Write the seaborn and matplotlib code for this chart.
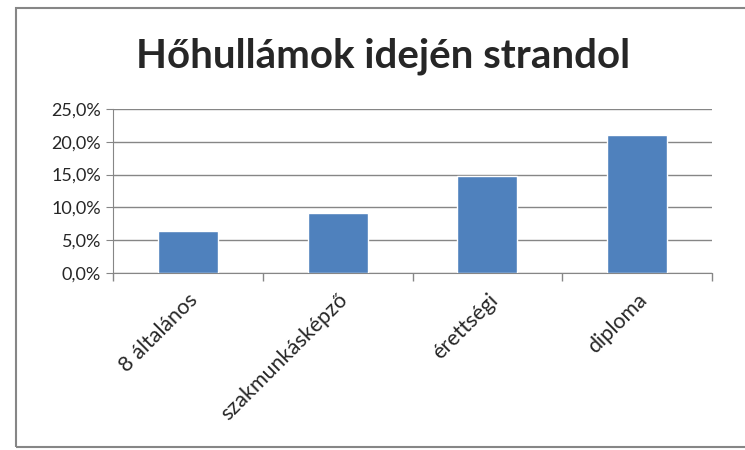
import matplotlib
matplotlib.use("Agg")
import matplotlib.pyplot as plt
import matplotlib.ticker as mticker
import seaborn as sns
import pandas as pd

## data
categories = ["8 általános", "szakmunkásképző", "érettségi", "diploma"]
values = [0.064, 0.092, 0.148, 0.211]
title = "Hőhullámok idején strandol"

df = pd.DataFrame({"kat": categories, "arany": values})

sns.set_style("white")
plt.rcParams["font.family"] = ["Lato", "DejaVu Sans"]

fig = plt.figure(figsize=(7.45, 4.5), dpi=100)
ax = fig.add_axes([0.1517, 0.3933, 0.8040, 0.3645])

sns.barplot(data=df, x="kat", y="arany", color="#4F81BD", width=0.4,
            saturation=1, ax=ax, zorder=3)

ax.set_ylim(0, 0.25)
ax.set_yticks([0, 0.05, 0.10, 0.15, 0.20, 0.25])
ax.yaxis.set_major_formatter(mticker.FuncFormatter(
    lambda v, p: f"{v*100:.1f}%".replace(".", ",")))
ax.grid(axis="y", color="#868686", linewidth=1, zorder=0)
ax.set_xlim(-0.5, 3.5)

# tick marks sit between the categories, labels at the centres
ax.set_xticks([i - 0.5 for i in range(len(categories) + 1)], minor=True)
ax.tick_params(axis="x", which="minor", length=6, color="#868686", width=1,
               direction="out", bottom=True)
ax.tick_params(axis="x", which="major", length=0, pad=12)
ax.tick_params(axis="y", length=5, color="#868686", direction="out", left=True)
ax.set_xticks(range(len(categories)))
ax.set_xticklabels(categories, rotation=45, ha="right", rotation_mode="anchor",
                   fontsize=15.5)
for t in ax.get_yticklabels():
    t.set_fontsize(13)

ax.set_xlabel("")
ax.set_ylabel("")
for s in ["top", "right"]:
    ax.spines[s].set_visible(False)
ax.spines["left"].set_color("#868686")
ax.spines["bottom"].set_color("#868686")

fig.text(0.514, 0.875, title, ha="center", va="center", fontsize=29,
         fontweight="bold")

# outer chart frame
frame = plt.Rectangle((0.022, 0.007), 0.99, 0.975, transform=fig.transFigure,
                      fill=False, edgecolor="#868686", linewidth=1.5)
fig.patches.append(frame)

fig.savefig("out.png", dpi=100)
